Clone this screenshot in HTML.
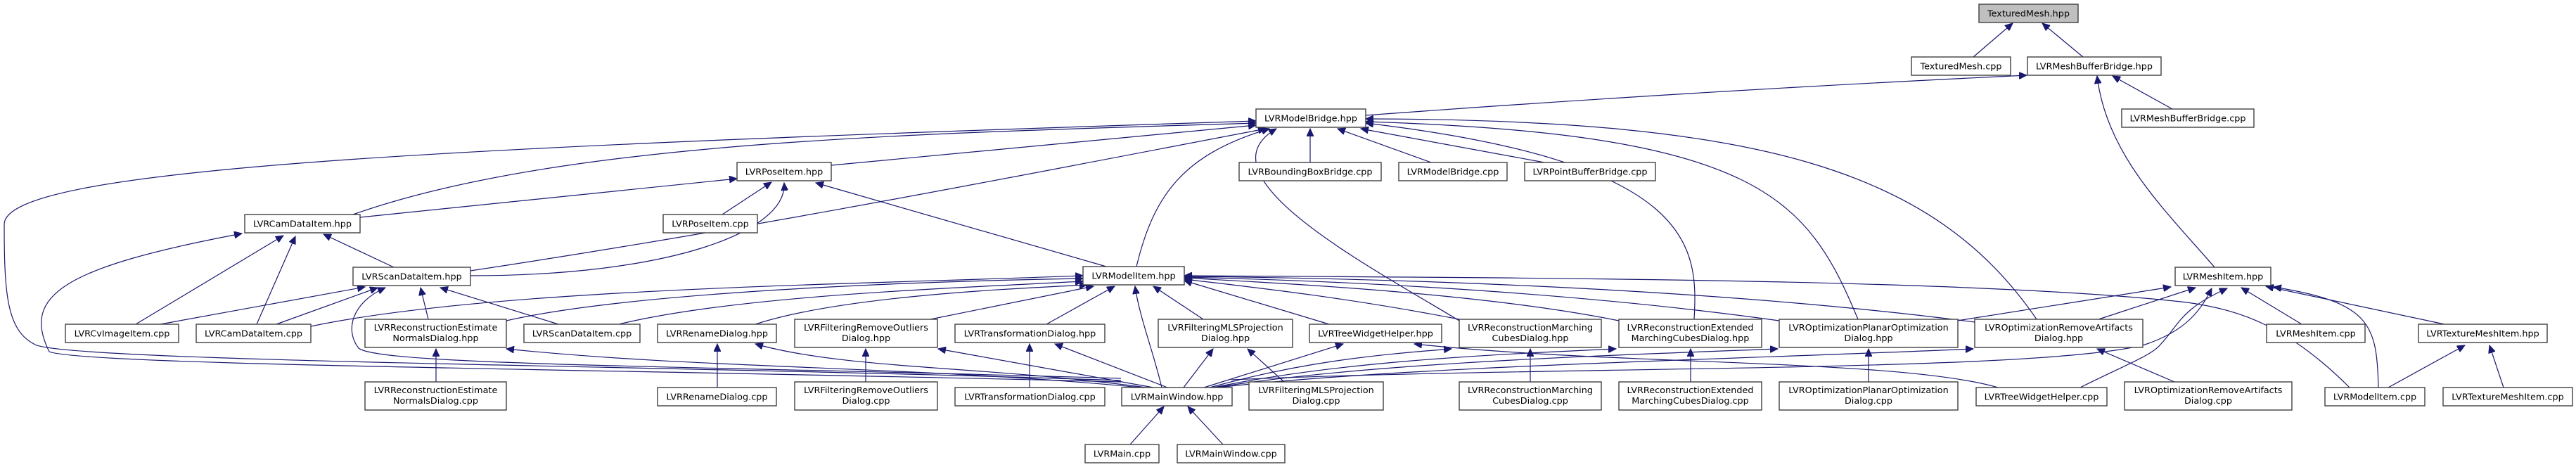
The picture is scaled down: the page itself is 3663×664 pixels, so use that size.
<!DOCTYPE html>
<html><head><meta charset="utf-8"><style>
html,body{margin:0;padding:0;background:#fff;width:3663px;height:664px;overflow:hidden}
svg{display:block}
rect{fill:#fff;stroke:#404040;stroke-width:1.4}
text{font-family:"DejaVu Sans","Liberation Sans",sans-serif;font-size:12.8px;text-anchor:middle;fill:#000}
path{fill:none;stroke:#191970;stroke-width:1.2}
</style></head><body>
<svg width="3663" height="664" viewBox="0 0 3663 664" xmlns="http://www.w3.org/2000/svg">
<defs><marker id="a" markerUnits="userSpaceOnUse" markerWidth="12" markerHeight="10" refX="11" refY="5" orient="auto"><path d="M0,0 L11,5 L0,10 Z" style="fill:#191970;stroke:#191970;stroke-width:1"/></marker></defs>
<g marker-end="url(#a)">
<path d="M2806,81 L2862,33"/>
<path d="M2962,81 L2904,33"/>
<path d="M1942,164 Q2400,130 2882,107"/>
<path d="M3089,155 L3004,108"/>
<path d="M3149,380 C3080,300 2995,220 2982,108"/>
<path d="M1863,231 L1863,183"/>
<path d="M2035,231 L1902,183"/>
<path d="M2196,231 L1935,183"/>
<path d="M1182,235 L1786,178"/>
<path d="M502,305 C800,200 1300,190 1786,175"/>
<path d="M669,385 C1100,320 1500,240 1800,183"/>
<path d="M1594,541 C1000,520 100,515 50,490 C10,470 6,420 6,319 C6,240 600,210 1786,172"/>
<path d="M1616,379 C1640,280 1680,220 1805,183"/>
<path d="M2075,456 C1950,380 1700,250 1815,183"/>
<path d="M2409,454 C2415,350 2410,230 1942,175"/>
<path d="M2642,454 C2570,280 2500,190 1942,173"/>
<path d="M2896,454 C2750,240 2500,170 1942,169"/>
<path d="M1027,305 L1097,259"/>
<path d="M512,309 L1048,254"/>
<path d="M669,392 C950,392 1120,330 1115,260"/>
<path d="M1573,379 L1160,260"/>
<path d="M560,380 L460,333"/>
<path d="M193,461 L403,335"/>
<path d="M365,461 L420,336"/>
<path d="M1594,543 C900,525 120,520 70,500 C30,420 90,380 344,332"/>
<path d="M228,461 L519,408"/>
<path d="M393,461 L537,409"/>
<path d="M609,454 L598,409"/>
<path d="M794,461 L626,409"/>
<path d="M1594,538 C1000,520 540,520 510,495 C490,470 500,430 548,409"/>
<path d="M442,464 C700,410 1200,405 1540,392"/>
<path d="M720,456 C900,415 1300,400 1540,396"/>
<path d="M880,461 C1050,420 1350,410 1540,400"/>
<path d="M1074,461 C1200,420 1450,410 1546,405"/>
<path d="M1323,454 L1555,407"/>
<path d="M1488,461 L1585,407"/>
<path d="M1711,454 L1640,407"/>
<path d="M1652,551 C1640,500 1620,450 1614,407"/>
<path d="M1890,461 L1684,399"/>
<path d="M2075,454 C1900,420 1750,405 1684,397"/>
<path d="M2302,456 C2100,415 1800,402 1684,395"/>
<path d="M2530,456 C2200,410 1850,398 1684,394"/>
<path d="M2808,458 C2400,405 1900,395 1684,393"/>
<path d="M3341,551 C3250,460 3180,440 3110,430 C2800,395 2100,395 1684,392"/>
<path d="M2783,456 L3087,408"/>
<path d="M2984,454 L3122,409"/>
<path d="M1751,540 C2200,520 2900,530 3050,490 C3110,470 3130,440 3145,410"/>
<path d="M2958,551 C3020,520 3060,505 3072,490 C3100,460 3100,440 3167,410"/>
<path d="M3273,461 L3187,409"/>
<path d="M3382,551 C3380,460 3370,430 3233,408"/>
<path d="M3476,461 L3222,407"/>
<path d="M3396,551 L3505,491"/>
<path d="M3560,551 L3540,491"/>
<path d="M620,543 L620,496"/>
<path d="M1020,551 L1020,489"/>
<path d="M1231,543 L1231,496"/>
<path d="M1464,551 L1464,489"/>
<path d="M2176,543 L2176,496"/>
<path d="M2404,543 L2404,496"/>
<path d="M2657,543 L2657,496"/>
<path d="M3092,543 L2982,496"/>
<path d="M1826,543 L1774,496"/>
<path d="M2841,551 C2700,510 2300,520 2011,489"/>
<path d="M1622,551 C1300,520 1000,525 720,496"/>
<path d="M1630,551 C1400,520 1200,525 1074,489"/>
<path d="M1640,551 L1334,496"/>
<path d="M1660,551 L1500,489"/>
<path d="M1683,551 L1725,496"/>
<path d="M1712,551 L1910,489"/>
<path d="M1720,551 C1850,515 1950,505 2064,496"/>
<path d="M1725,551 C1900,515 2100,505 2298,496"/>
<path d="M1728,551 C1950,515 2300,505 2528,496"/>
<path d="M1732,551 C2000,520 2500,510 2806,496"/>
<path d="M1607,632 L1655,578"/>
<path d="M1739,632 L1689,578"/>
</g>
<rect x="2814" y="6" width="141" height="26" style="fill:#bfbfbf"/><text x="2884.5" y="23.5">TexturedMesh.hpp</text>
<rect x="2718" y="81" width="141" height="26"/><text x="2788.5" y="98.5">TexturedMesh.cpp</text>
<rect x="2883" y="81" width="190" height="26"/><text x="2978" y="98.5">LVRMeshBufferBridge.hpp</text>
<rect x="1786" y="155" width="156" height="26"/><text x="1864" y="172.5">LVRModelBridge.hpp</text>
<rect x="3017" y="155" width="188" height="26"/><text x="3111" y="172.5">LVRMeshBufferBridge.cpp</text>
<rect x="1048" y="231" width="134" height="26"/><text x="1115" y="248.5">LVRPoseItem.hpp</text>
<rect x="1762" y="231" width="202" height="26"/><text x="1863" y="248.5">LVRBoundingBoxBridge.cpp</text>
<rect x="1989" y="231" width="154" height="26"/><text x="2066" y="248.5">LVRModelBridge.cpp</text>
<rect x="2168" y="231" width="186" height="26"/><text x="2261" y="248.5">LVRPointBufferBridge.cpp</text>
<rect x="348" y="305" width="164" height="26"/><text x="430" y="322.5">LVRCamDataItem.hpp</text>
<rect x="943" y="305" width="134" height="26"/><text x="1010" y="322.5">LVRPoseItem.cpp</text>
<rect x="502" y="380" width="167" height="26"/><text x="585.5" y="397.5">LVRScanDataItem.hpp</text>
<rect x="1540" y="379" width="144" height="26"/><text x="1612" y="396.5">LVRModelItem.hpp</text>
<rect x="3093" y="380" width="136" height="26"/><text x="3161" y="397.5">LVRMeshItem.hpp</text>
<rect x="93" y="461" width="161" height="26"/><text x="173.5" y="478.5">LVRCvImageItem.cpp</text>
<rect x="279" y="461" width="163" height="26"/><text x="360.5" y="478.5">LVRCamDataItem.cpp</text>
<rect x="745" y="461" width="165" height="26"/><text x="827.5" y="478.5">LVRScanDataItem.cpp</text>
<rect x="935" y="461" width="169" height="26"/><text x="1019.5" y="478.5">LVRRenameDialog.hpp</text>
<rect x="1358" y="461" width="213" height="26"/><text x="1464.5" y="478.5">LVRTransformationDialog.hpp</text>
<rect x="1862" y="461" width="188" height="26"/><text x="1956" y="478.5">LVRTreeWidgetHelper.hpp</text>
<rect x="3223" y="461" width="140" height="26"/><text x="3293" y="478.5">LVRMeshItem.cpp</text>
<rect x="3439" y="461" width="183" height="26"/><text x="3530.5" y="478.5">LVRTextureMeshItem.hpp</text>
<rect x="519" y="454" width="201" height="40"/><text x="619.5" y="470">LVRReconstructionEstimate</text><text x="619.5" y="485">NormalsDialog.hpp</text>
<rect x="1130" y="454" width="203" height="40"/><text x="1231.5" y="470">LVRFilteringRemoveOutliers</text><text x="1231.5" y="485">Dialog.hpp</text>
<rect x="1647" y="454" width="191" height="40"/><text x="1742.5" y="470">LVRFilteringMLSProjection</text><text x="1742.5" y="485">Dialog.hpp</text>
<rect x="2075" y="454" width="202" height="40"/><text x="2176" y="470">LVRReconstructionMarching</text><text x="2176" y="485">CubesDialog.hpp</text>
<rect x="2302" y="454" width="203" height="40"/><text x="2403.5" y="470">LVRReconstructionExtended</text><text x="2403.5" y="485">MarchingCubesDialog.hpp</text>
<rect x="2530" y="454" width="254" height="40"/><text x="2657" y="470">LVROptimizationPlanarOptimization</text><text x="2657" y="485">Dialog.hpp</text>
<rect x="2808" y="454" width="239" height="40"/><text x="2927.5" y="470">LVROptimizationRemoveArtifacts</text><text x="2927.5" y="485">Dialog.hpp</text>
<rect x="935" y="551" width="169" height="26"/><text x="1019.5" y="568.5">LVRRenameDialog.cpp</text>
<rect x="1358" y="551" width="213" height="26"/><text x="1464.5" y="568.5">LVRTransformationDialog.cpp</text>
<rect x="1595" y="551" width="157" height="26"/><text x="1673.5" y="568.5">LVRMainWindow.hpp</text>
<rect x="2810" y="551" width="186" height="26"/><text x="2903" y="568.5">LVRTreeWidgetHelper.cpp</text>
<rect x="3306" y="551" width="142" height="26"/><text x="3377" y="568.5">LVRModelItem.cpp</text>
<rect x="3474" y="551" width="184" height="26"/><text x="3566" y="568.5">LVRTextureMeshItem.cpp</text>
<rect x="519" y="543" width="201" height="40"/><text x="619.5" y="559">LVRReconstructionEstimate</text><text x="619.5" y="574">NormalsDialog.cpp</text>
<rect x="1130" y="543" width="203" height="40"/><text x="1231.5" y="559">LVRFilteringRemoveOutliers</text><text x="1231.5" y="574">Dialog.cpp</text>
<rect x="1776" y="543" width="191" height="40"/><text x="1871.5" y="559">LVRFilteringMLSProjection</text><text x="1871.5" y="574">Dialog.cpp</text>
<rect x="2075" y="543" width="202" height="40"/><text x="2176" y="559">LVRReconstructionMarching</text><text x="2176" y="574">CubesDialog.cpp</text>
<rect x="2302" y="543" width="203" height="40"/><text x="2403.5" y="559">LVRReconstructionExtended</text><text x="2403.5" y="574">MarchingCubesDialog.cpp</text>
<rect x="2530" y="543" width="254" height="40"/><text x="2657" y="559">LVROptimizationPlanarOptimization</text><text x="2657" y="574">Dialog.cpp</text>
<rect x="3021" y="543" width="238" height="40"/><text x="3140" y="559">LVROptimizationRemoveArtifacts</text><text x="3140" y="574">Dialog.cpp</text>
<rect x="1543" y="632" width="105" height="26"/><text x="1595.5" y="649.5">LVRMain.cpp</text>
<rect x="1674" y="632" width="153" height="26"/><text x="1750.5" y="649.5">LVRMainWindow.cpp</text>
</svg>
</body></html>
